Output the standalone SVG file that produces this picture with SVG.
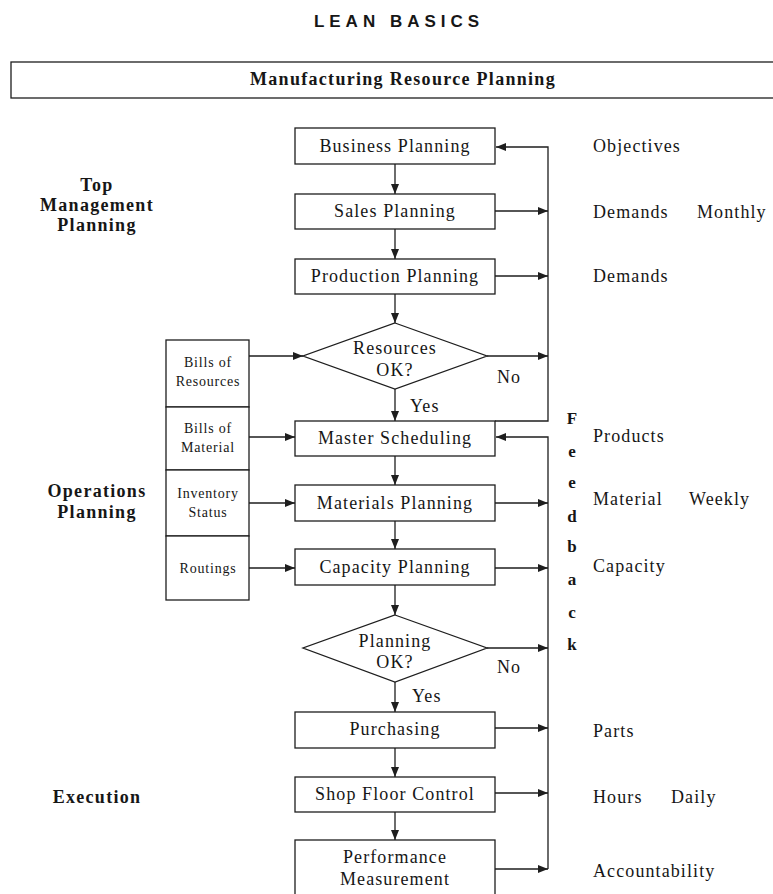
<svg xmlns="http://www.w3.org/2000/svg" width="773" height="894" viewBox="0 0 773 894">
  <style>
    .bg { fill: #ffffff; }
    .box { fill: #ffffff; stroke: #1e1e1e; stroke-width: 1.3; }
    .ln { fill: none; stroke: #1e1e1e; stroke-width: 1.3; }
    .t { font-family: "Liberation Serif", "Times New Roman", serif; font-size: 18px; letter-spacing: 1.1px; fill: #161616; }
    .c { text-anchor: middle; }
    .sm { font-size: 14px; letter-spacing: 0.8px; }
    .b { font-weight: bold; letter-spacing: 1.3px; }
    .fb { font-family: "Liberation Serif", "Times New Roman", serif; font-size: 17px; font-weight: bold; fill: #161616; text-anchor: middle; }
    .title { font-family: "Liberation Sans", Arial, sans-serif; font-size: 17px; font-weight: bold; letter-spacing: 5px; fill: #161616; text-anchor: middle; }
  </style>
  <defs>
    <marker id="ah" viewBox="0 0 10 8" refX="10" refY="4" markerWidth="10" markerHeight="8" orient="auto" markerUnits="userSpaceOnUse">
      <path d="M0,0 L10,4 L0,8 z" fill="#1e1e1e"/>
    </marker>
  </defs>

  <rect class="bg" x="0" y="0" width="773" height="894"/>

  <!-- page header -->
  <text class="title" x="399" y="27">LEAN BASICS</text>

  <!-- banner -->
  <g id="banner">
    <rect class="box" x="11" y="62" width="780" height="36"/>
    <text class="t b c" x="403" y="85">Manufacturing Resource Planning</text>
  </g>

  <!-- level labels -->
  <g id="label-top">
    <text class="t b c" x="97" y="191">Top</text>
    <text class="t b c" x="97" y="211">Management</text>
    <text class="t b c" x="97" y="231">Planning</text>
  </g>
  <g id="label-ops">
    <text class="t b c" x="97" y="497">Operations</text>
    <text class="t b c" x="97" y="518">Planning</text>
  </g>
  <g id="label-exec">
    <text class="t b c" x="97" y="803">Execution</text>
  </g>

  <!-- connectors -->
  <g id="connectors">
    <!-- main downward flow -->
    <line class="ln" x1="395" y1="164" x2="395" y2="194" marker-end="url(#ah)"/>
    <line class="ln" x1="395" y1="229" x2="395" y2="259" marker-end="url(#ah)"/>
    <line class="ln" x1="395" y1="294" x2="395" y2="323" marker-end="url(#ah)"/>
    <line class="ln" x1="395" y1="389" x2="395" y2="421" marker-end="url(#ah)"/>
    <line class="ln" x1="395" y1="456" x2="395" y2="485" marker-end="url(#ah)"/>
    <line class="ln" x1="395" y1="521" x2="395" y2="549" marker-end="url(#ah)"/>
    <line class="ln" x1="395" y1="585" x2="395" y2="615" marker-end="url(#ah)"/>
    <line class="ln" x1="395" y1="682" x2="395" y2="712" marker-end="url(#ah)"/>
    <line class="ln" x1="395" y1="748" x2="395" y2="777" marker-end="url(#ah)"/>
    <line class="ln" x1="395" y1="812" x2="395" y2="840" marker-end="url(#ah)"/>

    <!-- feedback loops -->
    <path class="ln" d="M495,421 H548 V147 H496" marker-end="url(#ah)"/>
    <path class="ln" d="M548,869 V437 H496" marker-end="url(#ah)"/>

    <!-- outputs to feedback line -->
    <line class="ln" x1="495" y1="211" x2="548" y2="211" marker-end="url(#ah)"/>
    <line class="ln" x1="495" y1="276" x2="548" y2="276" marker-end="url(#ah)"/>
    <line class="ln" x1="487" y1="356" x2="548" y2="356" marker-end="url(#ah)"/>
    <line class="ln" x1="495" y1="503" x2="548" y2="503" marker-end="url(#ah)"/>
    <line class="ln" x1="495" y1="568" x2="548" y2="568" marker-end="url(#ah)"/>
    <line class="ln" x1="487" y1="648" x2="548" y2="648" marker-end="url(#ah)"/>
    <line class="ln" x1="495" y1="728" x2="548" y2="728" marker-end="url(#ah)"/>
    <line class="ln" x1="495" y1="793" x2="548" y2="793" marker-end="url(#ah)"/>
    <line class="ln" x1="495" y1="869" x2="548" y2="869" marker-end="url(#ah)"/>

    <!-- data inputs -->
    <line class="ln" x1="249" y1="356" x2="303" y2="356" marker-end="url(#ah)"/>
    <line class="ln" x1="249" y1="437" x2="295" y2="437" marker-end="url(#ah)"/>
    <line class="ln" x1="249" y1="503" x2="295" y2="503" marker-end="url(#ah)"/>
    <line class="ln" x1="249" y1="568" x2="295" y2="568" marker-end="url(#ah)"/>
  </g>

  <!-- process steps -->
  <g id="business-planning">
    <rect class="box" x="295" y="128" width="200" height="36"/>
    <text class="t c" x="395" y="152">Business Planning</text>
  </g>
  <g id="sales-planning">
    <rect class="box" x="295" y="194" width="200" height="35"/>
    <text class="t c" x="395" y="217">Sales Planning</text>
  </g>
  <g id="production-planning">
    <rect class="box" x="295" y="259" width="200" height="35"/>
    <text class="t c" x="395" y="282">Production Planning</text>
  </g>
  <g id="resources-ok">
    <polygon class="box" points="395,323 487,356 395,389 303,356"/>
    <text class="t c" x="395" y="354">Resources</text>
    <text class="t c" x="395" y="376">OK?</text>
    <text class="t" x="497" y="383">No</text>
    <text class="t" x="410" y="412">Yes</text>
  </g>
  <g id="master-scheduling">
    <rect class="box" x="295" y="421" width="200" height="35"/>
    <text class="t c" x="395" y="444">Master Scheduling</text>
  </g>
  <g id="materials-planning">
    <rect class="box" x="295" y="485" width="200" height="36"/>
    <text class="t c" x="395" y="509">Materials Planning</text>
  </g>
  <g id="capacity-planning">
    <rect class="box" x="295" y="549" width="200" height="36"/>
    <text class="t c" x="395" y="573">Capacity Planning</text>
  </g>
  <g id="planning-ok">
    <polygon class="box" points="395,615 487,648 395,682 303,648"/>
    <text class="t c" x="395" y="647">Planning</text>
    <text class="t c" x="395" y="668">OK?</text>
    <text class="t" x="497" y="673">No</text>
    <text class="t" x="412" y="702">Yes</text>
  </g>
  <g id="purchasing">
    <rect class="box" x="295" y="712" width="200" height="36"/>
    <text class="t c" x="395" y="735">Purchasing</text>
  </g>
  <g id="shop-floor-control">
    <rect class="box" x="295" y="777" width="200" height="35"/>
    <text class="t c" x="395" y="800">Shop Floor Control</text>
  </g>
  <g id="performance-measurement">
    <rect class="box" x="295" y="840" width="200" height="60"/>
    <text class="t c" x="395" y="863">Performance</text>
    <text class="t c" x="395" y="885">Measurement</text>
  </g>

  <!-- data sources -->
  <g id="bills-of-resources">
    <rect class="box" x="166" y="340" width="83" height="67"/>
    <text class="t sm c" x="208" y="367">Bills of</text>
    <text class="t sm c" x="208" y="386">Resources</text>
  </g>
  <g id="bills-of-material">
    <rect class="box" x="166" y="407" width="83" height="63"/>
    <text class="t sm c" x="208" y="433">Bills of</text>
    <text class="t sm c" x="208" y="452">Material</text>
  </g>
  <g id="inventory-status">
    <rect class="box" x="166" y="470" width="83" height="66"/>
    <text class="t sm c" x="208" y="498">Inventory</text>
    <text class="t sm c" x="208" y="517">Status</text>
  </g>
  <g id="routings">
    <rect class="box" x="166" y="536" width="83" height="64"/>
    <text class="t sm c" x="208" y="573">Routings</text>
  </g>

  <!-- feedback caption -->
  <g id="feedback-label">
    <text class="fb" x="572" y="424">F</text>
    <text class="fb" x="572" y="457">e</text>
    <text class="fb" x="572" y="488">e</text>
    <text class="fb" x="572" y="522">d</text>
    <text class="fb" x="572" y="552">b</text>
    <text class="fb" x="572" y="585">a</text>
    <text class="fb" x="572" y="618">c</text>
    <text class="fb" x="572" y="650">k</text>
  </g>

  <!-- outputs and time buckets -->
  <g id="outputs">
    <text class="t" x="593" y="152">Objectives</text>
    <text class="t" x="593" y="218">Demands</text>
    <text class="t" x="697" y="218">Monthly</text>
    <text class="t" x="593" y="282">Demands</text>
    <text class="t" x="593" y="442">Products</text>
    <text class="t" x="593" y="505">Material</text>
    <text class="t" x="689" y="505">Weekly</text>
    <text class="t" x="593" y="572">Capacity</text>
    <text class="t" x="593" y="737">Parts</text>
    <text class="t" x="593" y="803">Hours</text>
    <text class="t" x="671" y="803">Daily</text>
    <text class="t" x="593" y="877">Accountability</text>
  </g>
</svg>
